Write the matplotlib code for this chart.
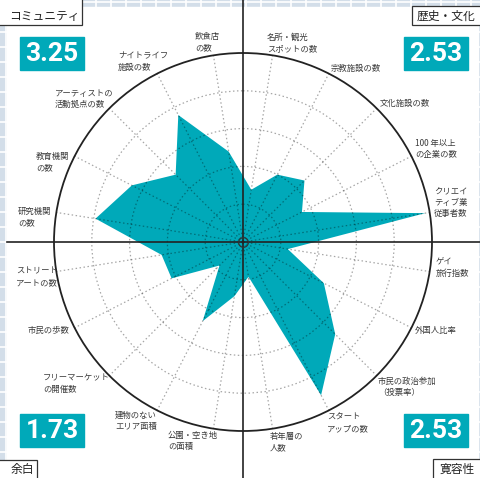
import numpy as np
import matplotlib
matplotlib.use("Agg")
import matplotlib.pyplot as plt
from matplotlib.patches import Rectangle

plt.rcParams['font.family'] = ['Noto Sans CJK JP', 'DejaVu Sans']

# --- data (score 0-5 per indicator, clockwise from the top) ---
categories = [
    "名所・観光\nスポットの数", "宗教施設の数", "文化施設の数", "100 年以上\nの企業の数",
    "クリエイ\nティブ業\n従事者数",
    "ゲイ\n旅行指数", "外国人比率", "市民の政治参加\n（投票率）", "スタート\nアップの数",
    "若年層の\n人数",
    "公園・空き地\nの面積", "建物のない\nエリア面積", "フリーマーケット\nの開催数", "市民の歩数",
    "ストリート\nアートの数",
    "研究機関\nの数", "教育機関\nの数", "アーティストの\n活動拠点の数", "ナイトライフ\n施設の数",
    "飲食店\nの数",
]
values = [1.4, 2.0, 2.3, 1.75, 4.88,
          1.2, 2.4, 3.45, 4.55, 0.93,
          1.45, 2.35, 0.88, 2.12, 2.18,
          3.95, 3.3, 2.52, 3.77, 2.42]
groups = ["歴史・文化", "寛容性", "余白", "コミュニティ"]
group_scores = ["2.53", "2.53", "1.73", "3.25"]

# --- layout (pixels) ---
W, H = 481, 478
cx, cy, R = 243, 242, 189
label_pos = [(267, 43), (331, 68), (380, 103), (415, 149), (434, 202),
             (436, 268), (415, 331), (378, 387), (327, 423), (270, 442),
             (168, 441), (115, 421), (43, 384), (28, 330), (16, 277),
             (18, 217), (36, 162), (55, 99), (118, 62), (195, 42)]
score_boxes = [(404, 37), (404, 414), (20, 414), (20, 37)]
name_boxes = [(412, 6, 80, 19), (433, 459, 60, 25), (-5, 460, 42, 25), (-5, -5, 87, 30)]

teal = "#00a9b9"
tile = "#d3dee9"

fig = plt.figure(figsize=(W / 100, H / 100), dpi=100)

# background tiles + white panel
bg = fig.add_axes([0, 0, 1, 1])
bg.set_xlim(0, W)
bg.set_ylim(H, 0)
bg.axis("off")
bg.add_patch(Rectangle((0, 0), W, H, color=tile))
for k in range(-1, 34):
    bg.axvline(6 + 15 * k, color="white", lw=1.2)
    bg.axhline(2 + 15 * k, color="white", lw=1.2)
bg.add_patch(Rectangle((7, 7), 471, 480, color="white", zorder=3))

# radar
ax = fig.add_axes([(cx - R) / W, (H - cy - R) / H, 2 * R / W, 2 * R / H], projection="polar")
ax.patch.set_alpha(0)
ax.set_theta_zero_location("N")
ax.set_theta_direction(-1)
theta = np.deg2rad(9 + 18 * np.arange(len(values)))
ax.fill(np.append(theta, theta[0]), values + values[:1], color=teal, lw=0, zorder=1)
ax.set_ylim(0, 5)
ax.set_rgrids([1, 2, 3, 4], labels=[])
ax.set_thetagrids(np.rad2deg(theta), labels=[])
ax.grid(color="black", alpha=0.35, linestyle=(0, (1.2, 2)), lw=0.9)
ax.set_axisbelow(False)
ax.spines["polar"].set_color("#222222")
ax.spines["polar"].set_linewidth(1.3)
ax.tick_params(length=0)

# overlay: axes lines, labels, boxes
ov = fig.add_axes([0, 0, 1, 1])
ov.patch.set_alpha(0)
ov.set_xlim(0, W)
ov.set_ylim(H, 0)
ov.axis("off")
ov.axhline(cy, xmin=7 / W, color="#222222", lw=1.2)
ov.axvline(cx, color="#222222", lw=1.2)
ov.plot(cx, cy, marker="o", ms=7, mfc="none", mec="#333333", mew=0.8)

for lab, (x, y) in zip(categories, label_pos):
    ov.text(x, y, lab, fontsize=6, color="#3a3a3a", ha="left", va="center", linespacing=1.35)

for g, s, (x, y), (bx, by, bw, bh) in zip(groups, group_scores, score_boxes, name_boxes):
    ov.add_patch(Rectangle((x, y), 64, 33, color=teal))
    ov.text(x + 32, y + 17, s, fontsize=19, fontweight="bold", color="white",
            ha="center", va="center", family=["Roboto", "DejaVu Sans"])
    ov.add_patch(Rectangle((bx, by), bw, bh, facecolor="white", edgecolor="#333333", lw=0.9))

ov.text(44, 16, "コミュニティ", fontsize=8.5, color="#222222", ha="center", va="center")
ov.text(446, 16, "歴史・文化", fontsize=8.5, color="#222222", ha="center", va="center")
ov.text(22, 469, "余白", fontsize=8.5, color="#222222", ha="center", va="center")
ov.text(457, 469, "寛容性", fontsize=8.5, color="#222222", ha="center", va="center")

fig.savefig("out.png", dpi=100)
